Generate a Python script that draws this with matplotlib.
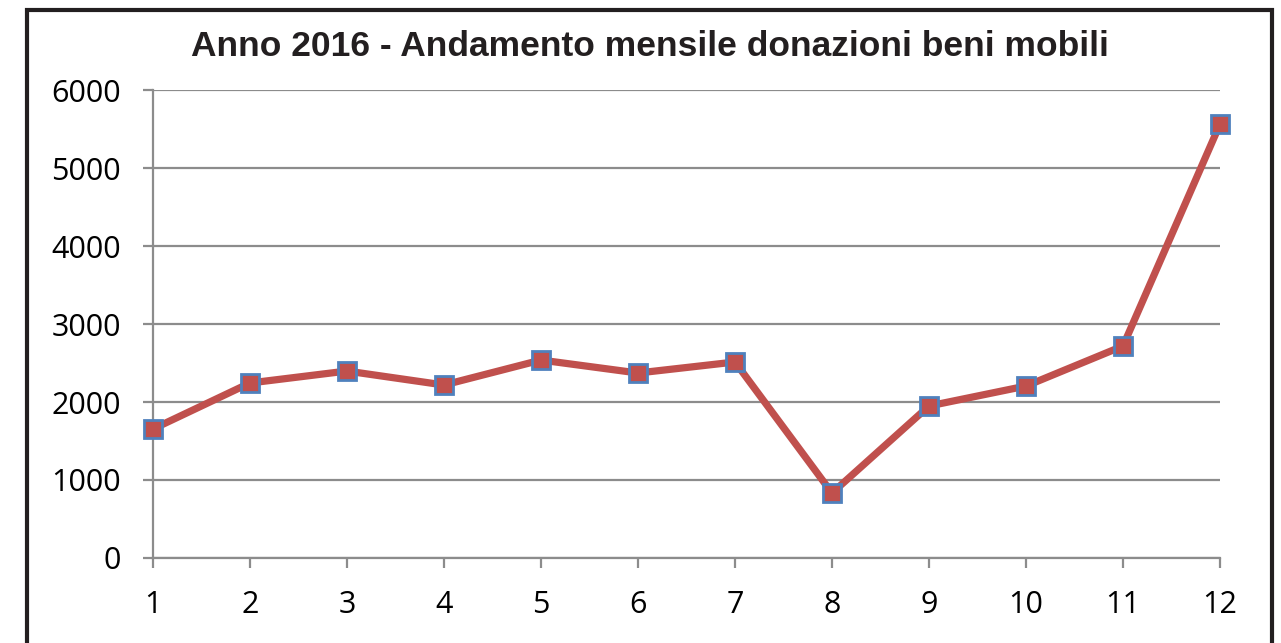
import matplotlib.pyplot as plt
from matplotlib.patches import Rectangle

# Monthly donations 2016
mesi = [1, 2, 3, 4, 5, 6, 7, 8, 9, 10, 11, 12]
donazioni = [1654, 2244, 2397, 2218, 2538, 2372, 2513, 833, 1949, 2205, 2718, 5564]
y_ticks = [0, 1000, 2000, 3000, 4000, 5000, 6000]

fig = plt.figure(figsize=(12.81, 6.43), dpi=100)
ax = fig.add_axes([0.1194, 0.1322, 0.8330, 0.7278])

grid_col = '#8c8c8c'
ax.set_xlim(1, 12)
ax.set_ylim(0, 6000)
ax.set_xticks(mesi)
ax.set_yticks(y_ticks)
ax.yaxis.grid(True, color=grid_col, linewidth=1.6)
ax.set_axisbelow(True)

for s in ['top', 'right']:
    ax.spines[s].set_visible(False)
ax.spines['left'].set_color(grid_col)
ax.spines['left'].set_linewidth(1.6)
ax.spines['bottom'].set_color(grid_col)
ax.spines['bottom'].set_linewidth(1.6)

ax.tick_params(axis='y', length=7, width=1.6, color=grid_col, pad=16,
               labelsize=22)
ax.tick_params(axis='x', length=7, width=1.6, color=grid_col, pad=16,
               labelsize=22)
for lab in ax.get_xticklabels() + ax.get_yticklabels():
    lab.set_fontfamily('Open Sans')

ax.plot(mesi, donazioni, color='#c0504d', linewidth=5.2, marker='s',
        markersize=13.5, markerfacecolor='#c0504d', markeredgecolor='#4f81bd',
        markeredgewidth=2, clip_on=False, zorder=3)

fig.text(0.507, 0.928, 'Anno 2016 - Andamento mensile donazioni beni mobili',
         ha='center', va='center', fontsize=25.5, fontweight='bold',
         family='Liberation Sans', color='#231f20')

# outer frame of the chart box
fig.patches.append(Rectangle((0.021, -0.05), 0.972, 1.034,
                             transform=fig.transFigure, fill=False,
                             edgecolor='#231f20', linewidth=3))

fig.savefig('out.png', dpi=100)
